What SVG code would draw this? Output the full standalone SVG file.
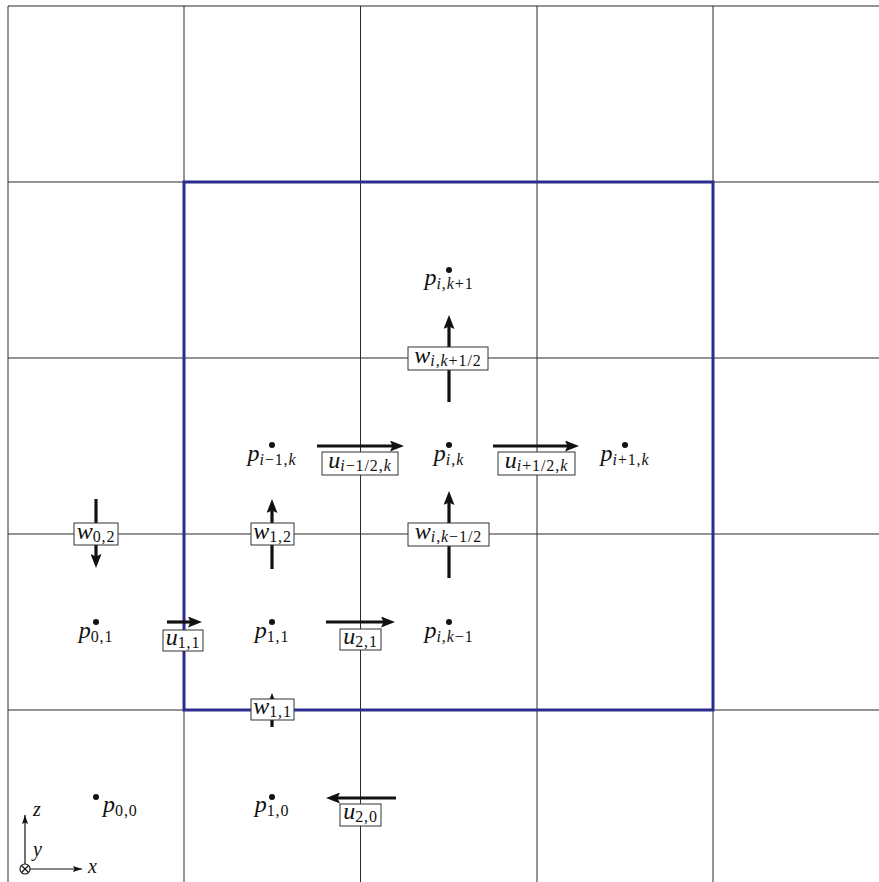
<svg xmlns="http://www.w3.org/2000/svg" width="879" height="882" viewBox="0 0 879 882">
<style>
.grid{stroke:#2a2a2a;stroke-width:1;fill:none}
.cv{fill:none;stroke:#2c2c8e;stroke-width:3}
.ar{fill:none;stroke:#111;stroke-width:3.2;marker-end:url(#ah)}
.ax{fill:none;stroke:#111;stroke-width:1.2}
.box{fill:#fff;stroke:#333;stroke-width:1}
.dot{fill:#111}
.t{font-size:24px;fill:#111}
.v{font-style:italic}
.sub{font-size:16px;font-style:normal;letter-spacing:0.9px}
.it{font-style:italic}
</style>
<defs>
<marker id="ah" viewBox="0 0 14 11" refX="9" refY="5.5" markerWidth="14" markerHeight="11" markerUnits="userSpaceOnUse" orient="auto">
<path d="M0,0 L14,5.5 L0,11 L2.5,5.5 z" fill="#111"/>
</marker>
<marker id="ahs" viewBox="0 0 9 6" refX="9" refY="3" markerWidth="9" markerHeight="6" markerUnits="userSpaceOnUse" orient="auto">
<path d="M0,0 L9,3 L0,6 L1.5,3 z" fill="#111"/>
</marker>
</defs>
<g id="grid">
<path class="grid" d="M8,6 V882 M184,6 V882 M360.5,6 V882 M537,6 V882 M713,6 V882 M8,6 H879 M8,182 H879 M8,358 H879 M8,534 H879 M8,710 H879"/>
</g>
<g id="control-volume">
<rect class="cv" x="184" y="182" width="529" height="528"/>
</g>
<g id="connectors">
<path class="ar" d="M449,402 V320"/>
<path class="ar" d="M317,446 H399"/>
<path class="ar" d="M493,446 H574"/>
<path class="ar" d="M449,578 V496"/>
<path class="ar" d="M272,569 V504"/>
<path class="ar" d="M96,499 V563"/>
<path class="ar" d="M167,622 H197"/>
<path class="ar" d="M326,622 H390"/>
<path class="ar" d="M272,727 V698"/>
<path class="ar" d="M396,798 H331"/>
</g>
<g id="points" font-family="Liberation Serif, serif">
<g id="p-i-k1"><circle class="dot" cx="449" cy="270" r="3"/><text class="t" x="449" y="285" text-anchor="middle"><tspan class="v">p</tspan><tspan class="sub" dy="4"><tspan class="it">i</tspan>,<tspan class="it">k</tspan>+1</tspan></text></g>
<g id="p-im1-k"><circle class="dot" cx="272" cy="445" r="3"/><text class="t" x="272" y="461" text-anchor="middle"><tspan class="v">p</tspan><tspan class="sub" dy="4"><tspan class="it">i</tspan>−1,<tspan class="it">k</tspan></tspan></text></g>
<g id="p-i-k"><circle class="dot" cx="449" cy="445" r="3"/><text class="t" x="449" y="461" text-anchor="middle"><tspan class="v">p</tspan><tspan class="sub" dy="4"><tspan class="it">i</tspan>,<tspan class="it">k</tspan></tspan></text></g>
<g id="p-ip1-k"><circle class="dot" cx="625" cy="445" r="3"/><text class="t" x="625" y="461" text-anchor="middle"><tspan class="v">p</tspan><tspan class="sub" dy="4"><tspan class="it">i</tspan>+1,<tspan class="it">k</tspan></tspan></text></g>
<g id="p-0-1"><circle class="dot" cx="96" cy="622" r="3"/><text class="t" x="96" y="638" text-anchor="middle"><tspan class="v">p</tspan><tspan class="sub" dy="4">0,1</tspan></text></g>
<g id="p-1-1"><circle class="dot" cx="272" cy="622" r="3"/><text class="t" x="272" y="638" text-anchor="middle"><tspan class="v">p</tspan><tspan class="sub" dy="4">1,1</tspan></text></g>
<g id="p-i-km1"><circle class="dot" cx="449" cy="622" r="3"/><text class="t" x="449" y="638" text-anchor="middle"><tspan class="v">p</tspan><tspan class="sub" dy="4"><tspan class="it">i</tspan>,<tspan class="it">k</tspan>−1</tspan></text></g>
<g id="p-0-0"><circle class="dot" cx="96" cy="797" r="3"/><text class="t" x="103" y="812"><tspan class="v">p</tspan><tspan class="sub" dy="4">0,0</tspan></text></g>
<g id="p-1-0"><circle class="dot" cx="272" cy="797" r="3"/><text class="t" x="272" y="812" text-anchor="middle"><tspan class="v">p</tspan><tspan class="sub" dy="4">1,0</tspan></text></g>
</g>
<g id="velocities" font-family="Liberation Serif, serif">
<g id="w-i-kp"><rect class="box" x="408" y="347" width="80" height="23"/><text class="t" x="448" y="363" text-anchor="middle"><tspan class="v">w</tspan><tspan class="sub" dy="3"><tspan class="it">i</tspan>,<tspan class="it">k</tspan>+1/2</tspan></text></g>
<g id="u-im-k"><rect class="box" x="322" y="452" width="76" height="23"/><text class="t" x="360" y="468" text-anchor="middle"><tspan class="v">u</tspan><tspan class="sub" dy="3"><tspan class="it">i</tspan>−1/2,<tspan class="it">k</tspan></tspan></text></g>
<g id="u-ip-k"><rect class="box" x="498" y="452" width="77" height="23"/><text class="t" x="536.5" y="468" text-anchor="middle"><tspan class="v">u</tspan><tspan class="sub" dy="3"><tspan class="it">i</tspan>+1/2,<tspan class="it">k</tspan></tspan></text></g>
<g id="w-i-km"><rect class="box" x="408" y="523" width="81" height="23"/><text class="t" x="448.5" y="539" text-anchor="middle"><tspan class="v">w</tspan><tspan class="sub" dy="3"><tspan class="it">i</tspan>,<tspan class="it">k</tspan>−1/2</tspan></text></g>
<g id="w-1-2"><rect class="box" x="251" y="523" width="43" height="22"/><text class="t" x="272.5" y="539" text-anchor="middle"><tspan class="v">w</tspan><tspan class="sub" dy="3">1,2</tspan></text></g>
<g id="w-0-2"><rect class="box" x="74" y="523" width="44" height="22"/><text class="t" x="96" y="539" text-anchor="middle"><tspan class="v">w</tspan><tspan class="sub" dy="3">0,2</tspan></text></g>
<g id="u-1-1"><rect class="box" x="163" y="630" width="40" height="21"/><text class="t" x="183" y="645" text-anchor="middle"><tspan class="v">u</tspan><tspan class="sub" dy="3">1,1</tspan></text></g>
<g id="u-2-1"><rect class="box" x="340" y="629" width="41" height="21"/><text class="t" x="360.5" y="644" text-anchor="middle"><tspan class="v">u</tspan><tspan class="sub" dy="3">2,1</tspan></text></g>
<g id="w-1-1"><rect class="box" x="251" y="699" width="43" height="21"/><text class="t" x="272.5" y="714" text-anchor="middle"><tspan class="v">w</tspan><tspan class="sub" dy="3">1,1</tspan></text></g>
<g id="u-2-0"><rect class="box" x="340" y="804" width="41" height="22"/><text class="t" x="360.5" y="819" text-anchor="middle"><tspan class="v">u</tspan><tspan class="sub" dy="3">2,0</tspan></text></g>
</g>
<g id="axes" font-family="Liberation Serif, serif">
<path class="ax" d="M25,864 V815" marker-end="url(#ahs)"/>
<path class="ax" d="M30,869 H82" marker-end="url(#ahs)"/>
<circle cx="25" cy="869" r="5" fill="none" stroke="#111" stroke-width="1.1"/>
<path class="ax" d="M21.5,865.5 L28.5,872.5 M28.5,865.5 L21.5,872.5" stroke-width="1"/>
<text class="v" x="33" y="816" font-size="20" fill="#111">z</text>
<text class="v" x="33" y="856" font-size="20" fill="#111">y</text>
<text class="v" x="88" y="873" font-size="20" fill="#111">x</text>
</g>
</svg>
